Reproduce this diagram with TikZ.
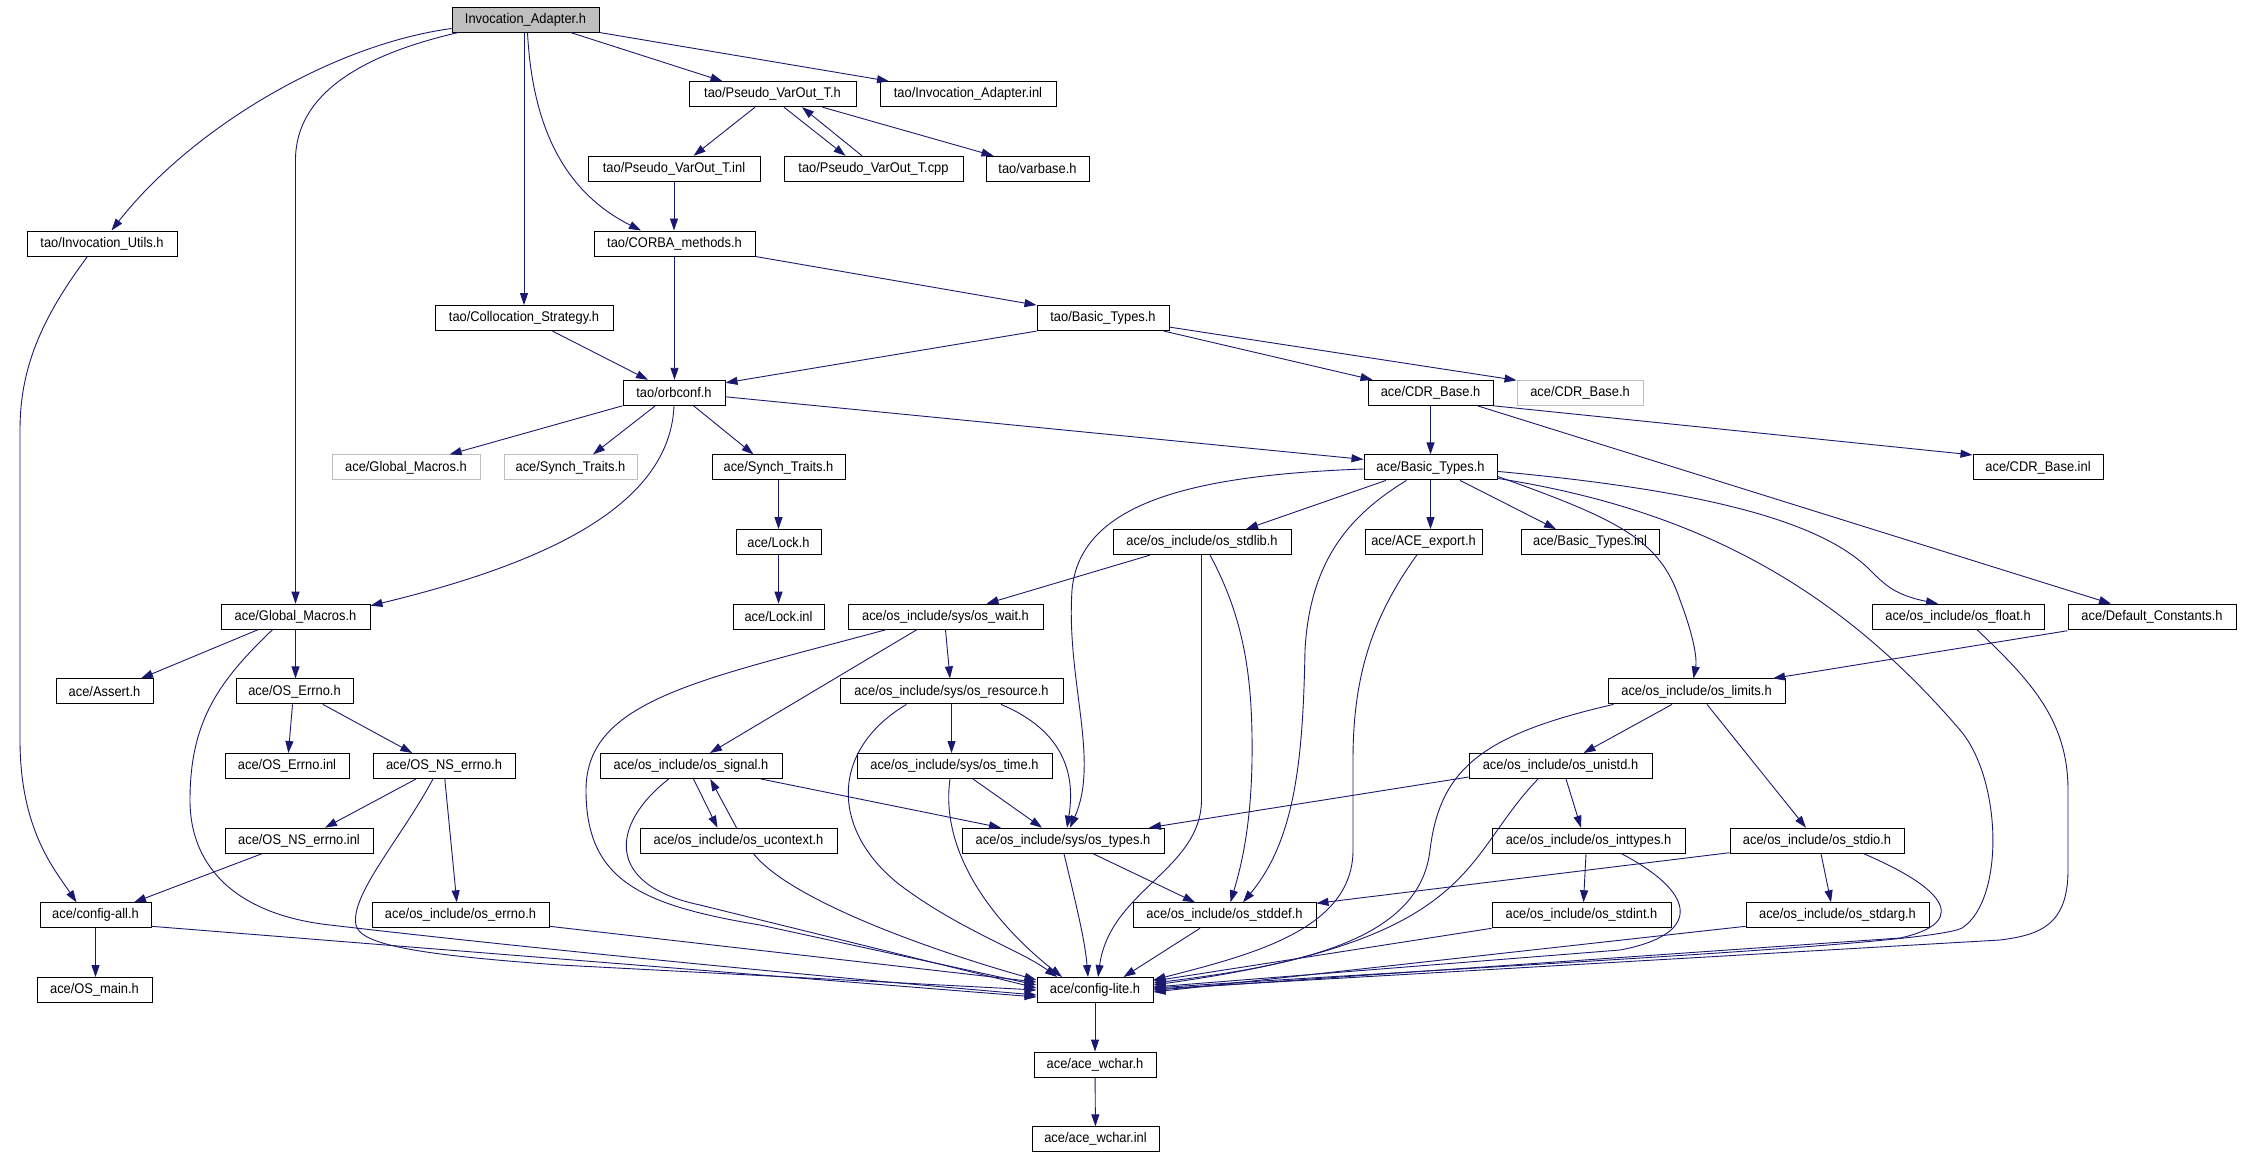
\documentclass[tikz,border=0pt]{standalone}
\usepackage{fontspec}
\setmainfont{Liberation Sans}[FakeStretch=0.92]
\usetikzlibrary{arrows.meta,calc}
\definecolor{edgec}{HTML}{191970}
\begin{document}
\begin{tikzpicture}[x=1pt,y=-1pt]
\tikzset{
 box/.style={draw=black, line width=1pt, minimum height=25pt, inner sep=0pt, font=\fontsize{14}{16}\selectfont, text=black},
 gbox/.style={box, draw=black!25},
 rootbox/.style={box, fill=black!25},
 dep/.style={draw=edgec, line width=0.9pt, -{Triangle[length=12pt,width=8pt]}}
}
\path[fill=white] (0,0) rectangle (2241,1157);
\useasboundingbox (0,0) rectangle (2241,1157);
% nodes
\node[rootbox, minimum width=147pt] (IA) at (525.5,19.5) {Invocation\_Adapter.h};
\node[box, minimum width=167pt] (PVTh) at (772.5,94.2) {tao/Pseudo\_VarOut\_T.h};
\node[box, minimum width=176pt] (IAinl) at (968,94.2) {tao/Invocation\_Adapter.inl};
\node[box, minimum width=172pt] (PVTinl) at (674,168.8) {tao/Pseudo\_VarOut\_T.inl};
\node[box, minimum width=179pt] (PVTcpp) at (873.5,168.8) {tao/Pseudo\_VarOut\_T.cpp};
\node[box, minimum width=103pt] (varbase) at (1037.5,168.8) {tao/varbase.h};
\node[box, minimum width=150pt] (IU) at (102,243.5) {tao/Invocation\_Utils.h};
\node[box, minimum width=161pt] (CM) at (674.5,243.5) {tao/CORBA\_methods.h};
\node[box, minimum width=178pt] (CS) at (524,318.1) {tao/Collocation\_Strategy.h};
\node[box, minimum width=132pt] (TBT) at (1103,318.1) {tao/Basic\_Types.h};
\node[box, minimum width=102pt] (orbconf) at (674,392.8) {tao/orbconf.h};
\node[box, minimum width=125pt] (CDR) at (1430.5,392.8) {ace/CDR\_Base.h};
\node[gbox, minimum width=126pt] (CDRg) at (1580,392.8) {ace/CDR\_Base.h};
\node[gbox, minimum width=148pt] (GMg) at (406,467.4) {ace/Global\_Macros.h};
\node[gbox, minimum width=133pt] (STg) at (570.5,467.4) {ace/Synch\_Traits.h};
\node[box, minimum width=133pt] (ST) at (778.5,467.4) {ace/Synch\_Traits.h};
\node[box, minimum width=133pt] (ABT) at (1430.5,467.4) {ace/Basic\_Types.h};
\node[box, minimum width=130pt] (CDRinl) at (2038,467.4) {ace/CDR\_Base.inl};
\node[box, minimum width=85pt] (Lock) at (778.5,542.1) {ace/Lock.h};
\node[box, minimum width=178pt] (stdlib) at (1202,542.1) {ace/os\_include/os\_stdlib.h};
\node[box, minimum width=117pt] (export) at (1423.5,542.1) {ace/ACE\_export.h};
\node[box, minimum width=138pt] (BTinl) at (1590,542.1) {ace/Basic\_Types.inl};
\node[box, minimum width=149pt] (GM) at (295.5,616.7) {ace/Global\_Macros.h};
\node[box, minimum width=91pt] (Lockinl) at (778.5,616.7) {ace/Lock.inl};
\node[box, minimum width=195pt] (wait) at (945.5,616.7) {ace/os\_include/sys/os\_wait.h};
\node[box, minimum width=172pt] (float) at (1958,616.7) {ace/os\_include/os\_float.h};
\node[box, minimum width=168pt] (DC) at (2152,616.7) {ace/Default\_Constants.h};
\node[box, minimum width=97pt] (Assert) at (104.5,691.4) {ace/Assert.h};
\node[box, minimum width=117pt] (OSErrno) at (294.5,691.4) {ace/OS\_Errno.h};
\node[box, minimum width=223pt] (resource) at (951.5,691.4) {ace/os\_include/sys/os\_resource.h};
\node[box, minimum width=177pt] (limits) at (1696.5,691.4) {ace/os\_include/os\_limits.h};
\node[box, minimum width=124pt] (OSErrnoinl) at (287,766) {ace/OS\_Errno.inl};
\node[box, minimum width=142pt] (NSerrno) at (444,766) {ace/OS\_NS\_errno.h};
\node[box, minimum width=182pt] (signal) at (691,766) {ace/os\_include/os\_signal.h};
\node[box, minimum width=195pt] (time) at (954.5,766) {ace/os\_include/sys/os\_time.h};
\node[box, minimum width=183pt] (unistd) at (1560.5,766) {ace/os\_include/os\_unistd.h};
\node[box, minimum width=148pt] (NSerrnoinl) at (299,840.7) {ace/OS\_NS\_errno.inl};
\node[box, minimum width=197pt] (ucontext) at (738.5,840.7) {ace/os\_include/os\_ucontext.h};
\node[box, minimum width=202pt] (types) at (1063,840.7) {ace/os\_include/sys/os\_types.h};
\node[box, minimum width=193pt] (inttypes) at (1588.5,840.7) {ace/os\_include/os\_inttypes.h};
\node[box, minimum width=174pt] (stdio) at (1817,840.7) {ace/os\_include/os\_stdio.h};
\node[box, minimum width=111pt] (configall) at (95.5,915.3) {ace/config-all.h};
\node[box, minimum width=177pt] (errno) at (460.5,915.3) {ace/os\_include/os\_errno.h};
\node[box, minimum width=183pt] (stddef) at (1224.5,915.3) {ace/os\_include/os\_stddef.h};
\node[box, minimum width=179pt] (stdint) at (1581.5,915.3) {ace/os\_include/os\_stdint.h};
\node[box, minimum width=183pt] (stdarg) at (1837.5,915.3) {ace/os\_include/os\_stdarg.h};
\node[box, minimum width=115pt] (OSmain) at (94.5,990) {ace/OS\_main.h};
\node[box, minimum width=116pt] (CL) at (1095,990) {ace/config-lite.h};
\node[box, minimum width=122pt] (wchar) at (1095,1064.6) {ace/ace\_wchar.h};
\node[box, minimum width=127pt] (wcharinl) at (1095.5,1139.3) {ace/ace\_wchar.inl};
% edges from Invocation_Adapter.h
\draw[dep] ($(IA.south west)+(0,-4)$) .. controls (330,45) and (190,130) .. ($(IU.north)+(9.5,0)$);
\draw[dep] ($(IA.south west)+(7,0)$) .. controls (360,55) and (295.5,95) .. (295.5,160) -- (GM.north);
\draw[dep] (IA.south -| CS.north) -- (CS.north);
\draw[dep] ($(IA.south)+(2,0)$) .. controls (532,120) and (560,190) .. ($(CM.north)+(-33.5,0)$);
\draw[dep] ($(IA.south)+(45,0)$) -- ($(PVTh.north)+(-50,0)$);
\draw[dep] (IA.south east) -- ($(IAinl.north)+(-79,0)$);
% Pseudo_VarOut
\draw[dep] ($(PVTh.south)+(-17.5,0)$) -- ($(PVTinl.north)+(19.6,0)$);
\draw[dep] ($(PVTh.south)+(11.5,0)$) -- ($(PVTcpp.north)+(-28,0)$);
\draw[dep] ($(PVTcpp.north)+(-11.5,0)$) -- ($(PVTh.south)+(29.5,0)$);
\draw[dep] ($(PVTh.south)+(50,0)$) -- ($(varbase.north)+(-44,0)$);
\draw[dep] (PVTinl.south) -- (PVTinl.south |- CM.north);
% CORBA_methods, Collocation, Basic_Types
\draw[dep] (CM.south) -- (CM.south |- orbconf.north);
\draw[dep] (CM.south east) -- (TBT.north west);
\draw[dep] ($(CS.south)+(28.5,0)$) -- ($(orbconf.north)+(-26,0)$);
\draw[dep] (TBT.south west) -- ($(orbconf.north east)+(0,3)$);
\draw[dep] ($(TBT.south)+(61,0)$) -- ($(CDR.north)+(-58,0)$);
\draw[dep] ($(TBT.east)+(0,9)$) -- ($(CDRg.north west)+(0,0.5)$);
% Invocation_Utils
\draw[dep] ($(IU.south)+(-14.5,0)$) .. controls (40,320) and (20,370) .. (20,430) -- (20,740) .. controls (20,830) and (55,870) .. ($(configall.north)+(-19,0)$);
% orbconf
\draw[dep] (orbconf.south west) -- ($(GMg.north)+(43.6,0)$);
\draw[dep] ($(orbconf.south)+(-18.7,0)$) -- ($(STg.north)+(22.5,0)$);
\draw[dep] ($(orbconf.south)+(19.6,0)$) -- ($(ST.north)+(-25,0)$);
\draw[dep] (orbconf.south) .. controls (670,500) and (560,560) .. ($(GM.north east)+(0,2)$);
\draw[dep] ($(orbconf.east)+(0,4)$) -- ($(ABT.north west)+(0,5)$);
% CDR_Base
\draw[dep] (CDR.south) -- (CDR.south |- ABT.north);
\draw[dep] (CDR.south east) -- ($(CDRinl.north west)+(0,0.5)$);
\draw[dep] ($(CDR.south)+(47,0)$) -- ($(DC.north)+(-41,0)$);
% Synch traits / lock
\draw[dep] (ST) -- (Lock);
\draw[dep] (Lock) -- (Lockinl);
% ace/Basic_Types.h
\draw[dep] ($(ABT.south)+(-44.5,0)$) -- ($(stdlib.north)+(44,0)$);
\draw[dep] (ABT.south) -- (ABT.south |- export.north);
\draw[dep] ($(ABT.south)+(29.5,0)$) -- ($(BTinl.north)+(-34,0)$);
\draw[dep] ($(ABT.west)+(0,1.6)$) .. controls (1200,475) and (1080,500) .. (1072,590) .. controls (1066,680) and (1100,760) .. ($(types.north)+(7,0)$);
\draw[dep] ($(ABT.south)+(-24,0)$) .. controls (1350,515) and (1310,560) .. (1305,650) .. controls (1303,760) and (1295,840) .. ($(stddef.north)+(18.5,0)$);
\draw[dep] ($(ABT.east)+(0,11)$) .. controls (1700,510) and (1840,590) .. (1960,730) .. controls (2002,779) and (2005,900) .. (1962,928) .. controls (1930,945) and (1500,965) .. ($(CL.east)+(0,-2)$);
\draw[dep] ($(ABT.east)+(0,4)$) .. controls (1700,490) and (1820,520) .. (1870,570) .. controls (1885,585) and (1895,595) .. ($(float.north)+(-20,0)$);
\draw[dep] ($(ABT.east)+(0,9)$) .. controls (1620,520) and (1660,540) .. (1680,600) .. controls (1695,640) and (1697,660) .. ($(limits.north)+(-3,0)$);
% os_stdlib
\draw[dep] ($(stdlib.south)+(-52,0)$) -- ($(wait.north)+(41,0)$);
\draw[dep] ($(stdlib.south)+(8,0)$) .. controls (1245,620) and (1253,680) .. (1252,760) .. controls (1251,830) and (1240,870) .. ($(stddef.north)+(6,0)$);
\draw[dep] ($(stdlib.south)+(-0.5,0)$) -- (1201.5,800) .. controls (1201,870) and (1110,890) .. ($(CL.north)+(3,0)$);
% ACE_export
\draw[dep] ($(export.south)+(-6.7,0)$) .. controls (1370,620) and (1353,680) .. (1353,760) -- (1353,850) .. controls (1353,930) and (1250,955) .. ($(CL.north east)+(0,3)$);
% os_float, Default_Constants
\draw[dep] ($(float.south)+(19,0)$) .. controls (2030,680) and (2068,720) .. (2068,790) -- (2068,870) .. controls (2068,925) and (2040,935) .. (2000,940) -- ($(CL.east)+(0,-1)$);
\draw[dep] ($(DC.south west)+(0,1)$) -- ($(limits.north)+(76.5,0)$);
% os_limits
\draw[dep] ($(limits.south)+(-24.5,0)$) -- ($(unistd.north)+(23,0)$);
\draw[dep] ($(limits.south)+(10.5,0)$) -- ($(stdio.north)+(-11,0)$);
\draw[dep] ($(limits.south west)+(6,0)$) .. controls (1480,735) and (1440,770) .. (1430,850) .. controls (1420,940) and (1300,965) .. ($(CL.east)+(0,-7)$);
% os_unistd
\draw[dep] ($(unistd.south west)+(0,-2)$) -- ($(types.north)+(86,0)$);
\draw[dep] ($(unistd.south)+(5.5,0)$) -- ($(inttypes.north)+(-7.5,0)$);
\draw[dep] ($(unistd.south)+(-22.5,0)$) .. controls (1460,860) and (1480,940) .. ($(CL.east)+(0,-5)$);
% os_inttypes, os_stdint
\draw[dep] ($(inttypes.south)+(-2.5,0)$) -- ($(stdint.north)+(2,0)$);
\draw[dep] ($(inttypes.south)+(33,0)$) .. controls (1700,895) and (1700,935) .. (1620,950) -- ($(CL.east)+(0,-3)$);
\draw[dep] (stdint.south west) -- ($(CL.east)+(0,-9)$);
% os_stdio, os_stdarg
\draw[dep] ($(stdio.south west)+(0,-1)$) -- ($(stddef.north east)+(0,1)$);
\draw[dep] ($(stdio.south)+(4,0)$) -- ($(stdarg.north)+(-6.5,0)$);
\draw[dep] ($(stdio.south)+(46.7,0)$) .. controls (1960,895) and (1960,925) .. (1900,938) -- ($(CL.east)+(0,0)$);
\draw[dep] ($(stdarg.south west)+(0,-2)$) -- ($(CL.east)+(0,2)$);
% os_types, os_stddef
\draw[dep] ($(types.south)+(30,0)$) -- ($(stddef.north)+(-29.5,0)$);
\draw[dep] ($(types.south)+(1,0)$) .. controls (1075,900) and (1085,940) .. ($(CL.north)+(-7,0)$);
\draw[dep] ($(stddef.south)+(-24.5,0)$) -- ($(CL.north)+(28.5,0)$);
% os_wait, os_resource, os_time
\draw[dep] (wait.south) -- ($(resource.north)+(-1.5,0)$);
\draw[dep] ($(wait.south)+(-28.7,0)$) -- ($(signal.north)+(19,0)$);
\draw[dep] ($(wait.south)+(-59.5,0)$) .. controls (700,680) and (586,700) .. (586,790) .. controls (586,880) and (640,905) .. (760,925) -- ($(CL.west)+(0,-5)$);
\draw[dep] ($(resource.south)+(49.5,0)$) .. controls (1050,725) and (1078,760) .. ($(types.north)+(4,0)$);
\draw[dep] (resource.south) -- (resource.south |- time.north);
\draw[dep] ($(resource.south)+(-45,0)$) .. controls (830,750) and (830,830) .. (900,885) .. controls (960,930) and (1020,950) .. ($(CL.north)+(-38,0)$);
\draw[dep] ($(time.south)+(18.5,0)$) -- ($(types.north)+(-21,0)$);
\draw[dep] ($(time.south)+(-4.5,0)$) .. controls (940,850) and (990,920) .. ($(CL.north)+(-33,0)$);
% os_signal, os_ucontext
\draw[dep] ($(signal.south)+(70,0)$) -- ($(types.north)+(-62,0)$);
\draw[dep] ($(signal.south)+(2.5,0)$) -- ($(ucontext.north)+(-21,0)$);
\draw[dep] ($(ucontext.north)+(-2,0)$) -- ($(signal.south)+(19.3,0)$);
\draw[dep] ($(signal.south)+(-22.3,0)$) .. controls (610,825) and (605,885) .. (700,905) -- ($(CL.west)+(0,-2)$);
\draw[dep] ($(ucontext.south)+(15,0)$) .. controls (790,900) and (930,950) .. ($(CL.west)+(0,-10)$);
% Global_Macros and errno family
\draw[dep] ($(GM.south)+(-37.5,0)$) -- ($(Assert.north)+(36.5,0)$);
\draw[dep] (GM.south) -- (GM.south |- OSErrno.north);
\draw[dep] ($(GM.south)+(-23,0)$) .. controls (220,680) and (190,720) .. (190,800) .. controls (190,870) and (240,915) .. (330,925) .. controls (500,945) and (800,975) .. ($(CL.west)+(0,5)$);
\draw[dep] ($(OSErrno.south)+(-2,0)$) -- ($(OSErrnoinl.north)+(1.4,0)$);
\draw[dep] ($(OSErrno.south)+(28.4,0)$) -- ($(NSerrno.north)+(-31.7,0)$);
\draw[dep] ($(NSerrno.south)+(-28,0)$) -- ($(NSerrnoinl.north)+(26,0)$);
\draw[dep] ($(NSerrno.south)+(0.8,0)$) -- ($(errno.north)+(-3.7,0)$);
\draw[dep] ($(NSerrno.south)+(-11,0)$) .. controls (400,840) and (350,895) .. (356,925) .. controls (360,945) and (420,955) .. (560,965) -- (CL.west);
\draw[dep] ($(NSerrnoinl.south)+(-37,0)$) -- ($(configall.north)+(38.5,0)$);
\draw[dep] ($(errno.east)+(0,11)$) -- ($(CL.west)+(0,-8)$);
\draw[dep] ($(configall.east)+(0,11)$) -- ($(CL.west)+(0,7)$);
\draw[dep] (configall.south) -- (configall.south |- OSmain.north);
% config-lite chain
\draw[dep] (CL) -- (wchar);
\draw[dep] (wchar) -- (wcharinl);
\end{tikzpicture}
\end{document}
